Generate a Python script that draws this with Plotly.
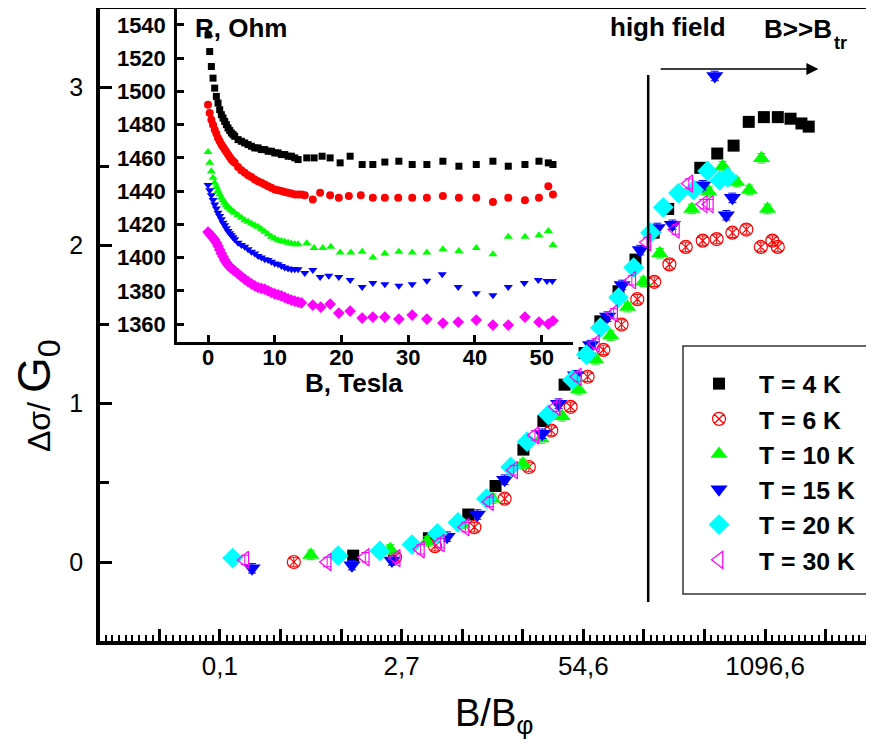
import plotly.graph_objects as go

# ---------------- main panel data: x = ln(B/B_phi), y = delta sigma / G0 ----------------
x_4K = [0.20, 1.45, 2.10, 2.55, 3.01, 3.34, 3.69, 4.02, 4.28, 4.58, 4.86, 5.16, 5.40, 5.93, 6.21, 6.48, 6.73, 6.98, 7.21, 7.42, 7.60, 7.72]
y_4K = [0.04, 0.15, 0.30, 0.48, 0.71, 0.89, 1.12, 1.32, 1.52, 1.71, 1.91, 2.08, 2.23, 2.49, 2.58, 2.63, 2.78, 2.81, 2.81, 2.80, 2.77, 2.75]

x_6K = [-0.78, 0.89, 1.55, 2.20, 2.70, 3.10, 3.47, 3.79, 4.07, 4.33, 4.63, 4.89, 5.17, 5.42, 5.69, 5.97, 6.20, 6.46, 6.69, 6.93, 7.12, 7.21]
y_6K = [0.00, 0.03, 0.10, 0.22, 0.40, 0.60, 0.83, 0.98, 1.17, 1.34, 1.50, 1.66, 1.77, 1.88, 1.99, 2.03, 2.04, 2.08, 2.10, 1.99, 2.03, 1.99]

x_10K = [-0.50, 0.81, 1.42, 2.00, 2.50, 3.00, 3.30, 3.65, 3.92, 4.20, 4.45, 4.73, 4.99, 5.26, 5.79, 6.07, 6.30, 6.53, 6.74, 6.94, 7.04]
y_10K = [0.045, 0.08, 0.13, 0.24, 0.40, 0.62, 0.78, 0.92, 1.09, 1.28, 1.43, 1.61, 1.77, 1.95, 2.23, 2.34, 2.50, 2.40, 2.35, 2.55, 2.23]

x_15K = [-1.47, 0.18, 0.84, 1.75, 2.25, 2.70, 3.32, 3.59, 3.87, 4.12, 4.40, 4.64, 4.94, 5.22, 5.47, 5.97, 6.17, 6.36, 6.46]
y_15K = [-0.04, -0.02, 0.01, 0.16, 0.30, 0.52, 0.81, 1.00, 1.18, 1.37, 1.55, 1.75, 1.97, 2.11, 2.13, 2.38, 3.07, 2.19, 2.30]

x_20K = [-1.79, -0.05, 0.64, 1.17, 1.59, 1.93, 2.40, 2.80, 3.07, 3.42, 3.82, 4.05, 4.28, 4.58, 4.83, 5.11, 5.32, 5.57, 5.82, 6.05, 6.25, 6.38]
y_20K = [0.025, 0.04, 0.07, 0.11, 0.18, 0.25, 0.40, 0.60, 0.76, 0.93, 1.15, 1.31, 1.48, 1.67, 1.86, 2.08, 2.24, 2.33, 2.35, 2.47, 2.41, 2.43]

x_30K = [-1.59, -0.23, 0.40, 0.91, 1.31, 1.64, 2.05, 2.45, 2.85, 3.20, 3.55, 3.90, 4.20, 4.50, 4.80, 5.05, 5.52, 5.74, 5.98, 6.08]
y_30K = [0.013, 0.00, 0.03, 0.025, 0.08, 0.12, 0.22, 0.38, 0.58, 0.80, 0.98, 1.17, 1.38, 1.57, 1.78, 2.02, 2.10, 2.39, 2.26, 2.26]

series_names = ["T = 4 K", "T = 6 K", "T = 10 K", "T = 15 K", "T = 20 K", "T = 30 K"]

# x tick positions (ln units) and their labels (e^n)
x_major_ln = list(range(-4, 10))
x_label_ln = [-2, 1, 4, 7]
x_tick_labels = ["0,1", "2,7", "54,6", "1096,6"]
y_tick_vals = [0, 1, 2, 3]

# ---------------- inset data: R (Ohm) vs B (Tesla) ----------------
B_4K = [0, 0.25, 0.5, 0.75, 1.0, 1.25, 1.5, 1.75, 2.0, 2.25, 2.5, 2.75, 3.0, 3.25, 3.5, 3.75, 4.0,
        4.5, 5.0, 5.5, 6.0, 6.5, 7.0, 7.5, 8.0, 8.5, 9.0, 9.5,
        10.0, 10.5, 11.0, 11.5, 12.0, 12.5, 13.0, 13.5,
        14.8, 15.9, 17.1, 18.3, 19.8, 21.3, 23.1, 24.7, 26.5, 28.6, 30.6, 32.8, 35.2, 37.6, 40.2, 42.7, 45.0, 47.5, 49.6, 51.0, 51.7]
R_4K = [1534, 1524, 1515, 1508, 1502, 1497, 1493, 1489, 1486, 1484, 1482, 1480, 1478, 1476.5, 1475, 1474, 1473,
        1471, 1470, 1469, 1468, 1467, 1466, 1466, 1465, 1465, 1464, 1464,
        1463, 1463, 1462, 1462, 1461, 1461, 1460, 1459,
        1460, 1460, 1461, 1460, 1457, 1461, 1456, 1456, 1457.5, 1458, 1456, 1456, 1458, 1455, 1456, 1458, 1455, 1456, 1458, 1457, 1456]

B_6K = [0, 0.25, 0.5, 0.75, 1.0, 1.25, 1.5, 1.75, 2.0, 2.25, 2.5, 2.75, 3.0, 3.25, 3.5, 3.75, 4.0,
        4.5, 5.0, 5.5, 6.0, 6.5, 7.0, 7.5, 8.0, 8.5, 9.0, 9.5,
        10.0, 10.5, 11.0, 11.5, 12.0, 12.5, 13.0, 13.5, 14.0, 14.5,
        15.7, 16.8, 18.3, 19.6, 21.1, 22.9, 24.7, 26.5, 28.5, 30.6, 32.8, 35.2, 37.6, 40.2, 42.7, 45.0, 47.5, 49.6, 51.0, 51.7]
R_6K = [1492, 1487, 1483, 1480, 1477, 1474.5, 1472, 1470, 1468, 1466.5, 1465, 1463.5, 1462, 1460.5, 1459, 1458, 1457,
        1454.5, 1452.5, 1451, 1449.5, 1448.5, 1447, 1446, 1445, 1444, 1443, 1442,
        1441, 1440.5, 1440, 1439.5, 1439, 1438.5, 1438, 1438, 1438, 1437.5,
        1435, 1439, 1437.5, 1436, 1437, 1437.5, 1436, 1436, 1436, 1436, 1436, 1437, 1436, 1436, 1433.5, 1436, 1434.5, 1436, 1443, 1438]

B_10K = [0, 0.25, 0.5, 0.75, 1.0, 1.25, 1.5, 1.75, 2.0, 2.25, 2.5, 2.75, 3.0, 3.25, 3.5, 3.75, 4.0,
         4.5, 5.0, 5.5, 6.0, 6.5, 7.0, 7.5, 8.0, 8.5, 9.0, 9.5,
         10.0, 10.5, 11.0, 11.5, 12.0, 12.5, 13.0, 13.5,
         14.8, 15.9, 17.2, 18.4, 19.8, 21.4, 23.1, 24.7, 26.5, 28.6, 30.6, 32.8, 35.2, 37.6, 40.2, 42.7, 45.0, 47.5, 49.6, 51.0, 51.7]
R_10K = [1463.5, 1457, 1452, 1448, 1445, 1442.5, 1440, 1438, 1436, 1434.5, 1433, 1431.5, 1430.5, 1429.5, 1428.5, 1427.7, 1427,
         1425.5, 1424, 1422.5, 1421.5, 1420.5, 1419.5, 1418.5, 1417, 1415.5, 1414, 1412.5,
         1411.5, 1410.5, 1410, 1409.5, 1409, 1408.5, 1408, 1408,
         1408.7, 1405.7, 1405.7, 1406.5, 1403, 1403, 1403.5, 1400, 1402.5, 1403.5, 1403, 1403, 1405, 1404, 1405.7, 1402, 1412.5, 1412.5, 1413.5, 1416, 1407.5]

B_15K = [0, 0.25, 0.5, 0.75, 1.0, 1.25, 1.5, 1.75, 2.0, 2.25, 2.5, 2.75, 3.0, 3.25, 3.5, 3.75, 4.0,
         4.5, 5.0, 5.5, 6.0, 6.5, 7.0, 7.5, 8.0, 8.5, 9.0, 9.5,
         10.0, 10.5, 11.0, 11.5, 12.0, 12.5, 13.0, 13.5,
         14.5, 15.7, 16.8, 18.1, 19.6, 21.3, 23.1, 24.7, 26.5, 28.6, 30.6, 32.8, 35.1, 37.5, 40.2, 42.7, 45.0, 47.4, 49.5, 50.8, 51.6]
R_15K = [1443.7, 1440.5, 1437.5, 1434.7, 1432, 1429.5, 1427, 1425, 1423, 1421, 1419.5, 1417.7, 1416, 1414.7, 1413.5, 1412.2, 1411,
         1409, 1407.5, 1406.5, 1405, 1403.5, 1402.5, 1401, 1400, 1399, 1398.5, 1397.5,
         1396.5, 1396, 1395, 1394, 1393.5, 1393, 1393, 1393,
         1390.7, 1392.5, 1388.3, 1389, 1388.3, 1386.5, 1382.3, 1384.7, 1384, 1383, 1384, 1386, 1390, 1382.3, 1378.6, 1377.4, 1382.3, 1384.7, 1386.5, 1385.9, 1385.9]

B_20K = [0, 0.25, 0.5, 0.75, 1.0, 1.25, 1.5, 1.75, 2.0, 2.25, 2.5, 2.75, 3.0, 3.25, 3.5, 3.75, 4.0,
         4.5, 5.0, 5.5, 6.0, 6.5, 7.0, 7.5, 8.0, 8.5, 9.0, 9.5,
         10.0, 10.5, 11.0, 11.5, 12.0, 12.5, 13.0, 13.5, 14.0,
         15.7, 16.9, 18.3, 19.6, 21.3, 23.1, 24.7, 26.5, 28.6, 30.6, 32.8, 35.2, 37.5, 40.2, 42.7, 45.0, 47.5, 49.6, 51.0, 51.7]
R_20K = [1415.4, 1414.2, 1413, 1412, 1410.6, 1409, 1407, 1404.7, 1402.5, 1400.5, 1398.5, 1397, 1395.5, 1394.5, 1393.5, 1392.7, 1392,
         1390.2, 1388.5, 1387, 1385.5, 1384.2, 1383, 1382, 1381.5, 1381, 1380, 1379,
         1378.2, 1377.6, 1377, 1376, 1375.2, 1374.4, 1373.8, 1373.2, 1372.8,
         1371.4, 1370.2, 1372, 1366.6, 1367.8, 1363.6, 1364.2, 1364.2, 1363, 1365.4, 1363, 1360.6, 1361.2, 1362.4, 1359.4, 1359.4, 1364.2, 1361.2, 1360, 1362]

inset_B_ticks = [0, 10, 20, 30, 40, 50]
inset_R_ticks = [1360, 1380, 1400, 1420, 1440, 1460, 1480, 1500, 1520, 1540]

# ---------------- geometry (screen pixel -> paper); page body adds an 8 px offset ----------------
W, H = 874, 754
OFF = 8
ML, MT, MR, MB = 92, 1, 0, 121
PW = W - ML - MR
PH = H - MT - MB


def px(sx):
    return (sx - OFF - ML) / PW


def py(sy):
    return ((H - MB) - (sy - OFF)) / PH


FONT = "Liberation Sans, Arial, sans-serif"

fig = go.Figure()

main_styles = [
    (x_4K, y_4K, dict(symbol="square", color="#000000", size=12)),
    (x_6K, y_6K, dict(symbol="circle-x-open", color="#FF0000", size=13, line=dict(width=1.2, color="#FF0000"))),
    (x_10K, y_10K, dict(symbol="triangle-up", color="#00FF00", size=15)),
    (x_15K, y_15K, dict(symbol="triangle-down", color="#0000FF", size=15)),
    (x_20K, y_20K, dict(symbol="diamond", color="#00FFFF", size=16)),
    (x_30K, y_30K, dict(symbol="triangle-left-open", color="#FF00FF", size=15, line=dict(width=1.2, color="#FF00FF"))),
]
for (xs, ys, mk), name in zip(main_styles, series_names):
    fig.add_trace(go.Scatter(
        x=xs, y=ys, mode="markers", name=name, marker=mk,
        error_y=dict(type="constant", value=0.03, thickness=1, width=4, color=mk["color"]),
        xaxis="x", yaxis="y",
    ))

inset_styles = [
    (B_4K, R_4K, dict(symbol="square", color="#000000", size=7)),
    (B_6K, R_6K, dict(symbol="circle", color="#FF0000", size=8)),
    (B_10K, R_10K, dict(symbol="triangle-up", color="#00FF00", size=8)),
    (B_15K, R_15K, dict(symbol="triangle-down", color="#0000FF", size=8)),
    (B_20K, R_20K, dict(symbol="diamond", color="#FF00FF", size=9)),
]
for xs, ys, mk in inset_styles:
    fig.add_trace(go.Scatter(x=xs, y=ys, mode="markers", marker=mk, showlegend=False,
                             xaxis="x2", yaxis="y2"))

x_ticktext = [x_tick_labels[x_label_ln.index(v)] if v in x_label_ln else "" for v in x_major_ln]

fig.update_layout(
    width=W, height=H,
    margin=dict(l=ML, r=MR, t=MT, b=MB, autoexpand=False),
    paper_bgcolor="white", plot_bgcolor="white",
    font=dict(family=FONT, color="black"),
    showlegend=True,
    xaxis=dict(
        range=[-3.98, 8.93], domain=[0, 1],
        tickmode="array", tickvals=x_major_ln, ticktext=x_ticktext,
        ticks="inside", ticklen=12, tickwidth=2.5, tickcolor="black",
        minor=dict(dtick=1 / 9, tick0=-4, ticks="inside", ticklen=6, tickwidth=2, tickcolor="black"),
        showline=True, linewidth=3.5, linecolor="black", mirror=True,
        showgrid=False, zeroline=False,
        tickfont=dict(size=26, family=FONT), ticklabelstandoff=-1,
    ),
    yaxis=dict(
        range=[-0.499, 3.493], domain=[0, 1],
        tickmode="array", tickvals=y_tick_vals,
        ticks="inside", ticklen=12, tickwidth=3, tickcolor="black",
        minor=dict(dtick=0.5, tick0=0, ticks="inside", ticklen=9, tickwidth=2.5, tickcolor="black"),
        showline=True, linewidth=3.5, linecolor="black", mirror=False,
        showgrid=False, zeroline=False,
        tickfont=dict(size=25, family=FONT), ticklabelstandoff=8,
    ),
    xaxis2=dict(
        range=[-4.65, 54.7], domain=[px(177), px(573)], anchor="y2",
        tickmode="array", tickvals=inset_B_ticks,
        ticks="inside", ticklen=7, tickwidth=2.5, tickcolor="black",
        showline=True, linewidth=2.5, linecolor="black", mirror=False,
        showgrid=False, zeroline=False,
        tickfont=dict(size=22, family=FONT, weight="bold"), ticklabelstandoff=-6,
    ),
    yaxis2=dict(
        range=[1349.2, 1549.6], domain=[py(342), 1], anchor="x2",
        tickmode="array", tickvals=inset_R_ticks,
        ticks="inside", ticklen=7, tickwidth=2.5, tickcolor="black",
        showline=True, linewidth=2.5, linecolor="black", mirror=False,
        showgrid=False, zeroline=False,
        tickfont=dict(size=22, family=FONT, weight="bold"), ticklabelstandoff=4,
    ),
    legend=dict(
        x=px(679), y=py(361), xanchor="left", yanchor="top",
        bgcolor="rgba(0,0,0,0)", borderwidth=0,
        font=dict(size=24.8, family=FONT, weight="bold"),
        itemwidth=70,
    ),
)

# legend frame
fig.add_shape(type="rect", xref="paper", yref="paper",
              x0=px(683), x1=px(900), y0=py(594), y1=py(346),
              line=dict(color="#333333", width=1.5), layer="below")

# high-field separator line and arrow
fig.add_shape(type="line", xref="x", yref="y", x0=5.07, x1=5.07, y0=-0.253, y1=3.076,
              line=dict(color="black", width=2.5))
fig.add_annotation(x=7.88, y=3.114, ax=5.25, ay=3.114, xref="x", yref="y", axref="x", ayref="y",
                   text="", showarrow=True, arrowhead=2, arrowsize=1.6, arrowwidth=1.5, arrowcolor="black")

ann_font_b = dict(family=FONT, size=26, color="black", weight="bold")
fig.add_annotation(x=px(608), y=py(27), xref="paper", yref="paper", text="high field",
                   showarrow=False, xanchor="left", yanchor="middle", font=ann_font_b)
fig.add_annotation(x=px(762), y=py(29), xref="paper", yref="paper", text="B>>B",
                   showarrow=False, xanchor="left", yanchor="middle", font=ann_font_b)
fig.add_annotation(x=px(832), y=py(43), xref="paper", yref="paper", text="tr",
                   showarrow=False, xanchor="left", yanchor="middle",
                   font=dict(family=FONT, size=18, color="black", weight="bold"))
fig.add_annotation(x=px(193), y=py(28), xref="paper", yref="paper", text="R, Ohm",
                   showarrow=False, xanchor="left", yanchor="middle", font=ann_font_b)
fig.add_annotation(x=px(303), y=py(383), xref="paper", yref="paper", text="B, Tesla",
                   showarrow=False, xanchor="left", yanchor="middle", font=ann_font_b)

# axis titles
fig.add_annotation(x=px(453), y=py(716), xref="paper", yref="paper", text="B/B<sub>φ</sub>",
                   showarrow=False, xanchor="left", yanchor="middle",
                   font=dict(family=FONT, size=38, color="black"))
fig.add_annotation(x=px(38), y=py(396), xref="paper", yref="paper",
                   text="<span style='font-size:32px'>Δσ/ </span>G<sub>0</sub>",
                   textangle=-90, showarrow=False, xanchor="center", yanchor="middle",
                   font=dict(family=FONT, size=46, color="black"))

fig.write_html("out.html")
